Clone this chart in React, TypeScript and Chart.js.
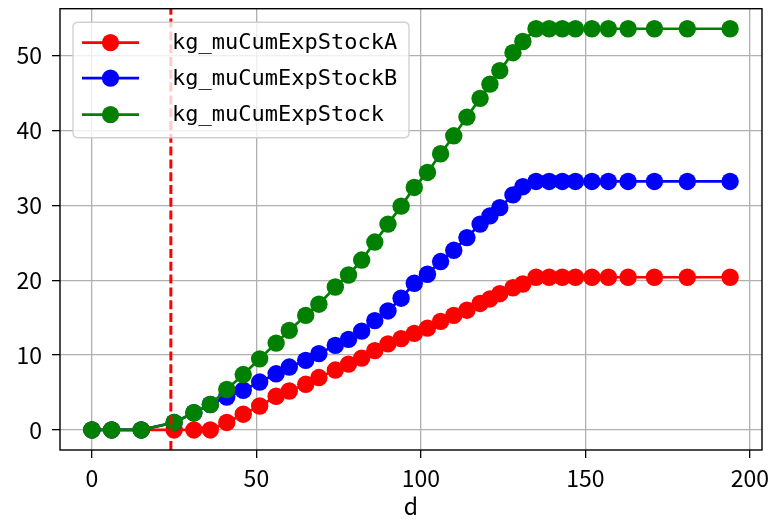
import React, { useEffect, useRef } from "react";
import { Chart, registerables } from "chart.js";

Chart.register(...registerables);

const days = [0, 6, 15, 25, 31, 36, 41, 46, 51, 56, 60, 65, 69, 74, 78, 82, 86, 90, 94, 98, 102, 106, 110, 114, 118, 121, 124, 128, 131, 135, 139, 143, 147, 152, 157, 163, 171, 181, 194];
const stockA = [0, 0, 0, 0, 0, 0, 1.0, 2.1, 3.2, 4.5, 5.2, 6.1, 7.0, 8.0, 8.8, 9.6, 10.6, 11.5, 12.2, 12.9, 13.6, 14.5, 15.3, 16.0, 16.9, 17.5, 18.2, 19.0, 19.5, 20.4, 20.4, 20.4, 20.4, 20.4, 20.4, 20.4, 20.4, 20.4, 20.4];
const stockB = [0, 0, 0, 1.0, 2.3, 3.4, 4.4, 5.3, 6.4, 7.5, 8.4, 9.3, 10.2, 11.3, 12.1, 13.2, 14.6, 15.9, 17.6, 19.6, 20.8, 22.5, 24.0, 25.7, 27.5, 28.6, 29.7, 31.4, 32.5, 33.2, 33.2, 33.2, 33.2, 33.2, 33.2, 33.2, 33.2, 33.2, 33.2];
const stockTotal = [0, 0, 0, 1.0, 2.3, 3.4, 5.4, 7.4, 9.5, 11.6, 13.3, 15.3, 16.8, 19.1, 20.7, 22.7, 25.1, 27.5, 29.9, 32.4, 34.4, 36.9, 39.3, 41.8, 44.3, 46.2, 48.0, 50.4, 51.9, 53.6, 53.6, 53.6, 53.6, 53.6, 53.6, 53.6, 53.6, 53.6, 53.6];
const seriesNames = ["kg_muCumExpStockA", "kg_muCumExpStockB", "kg_muCumExpStock"];
const seriesColors = ["#ff0000", "#0000ff", "#008000"];
const markerDay = 24;
const xTicks = [0, 50, 100, 150, 200];
const yTicks = [0, 10, 20, 30, 40, 50];
const xTitle = "d";

const X_MIN = -9.7;
const X_MAX = 203.7;
const Y_MIN = -2.68;
const Y_MAX = 56.28;

const TICK_FONT = { family: "'Noto Sans CJK SC', 'Noto Sans', sans-serif", size: 23 };

const framePlugin = {
  id: "frameAndLegend",
  afterDatasetsDraw(chart: any) {
    const { ctx, chartArea } = chart;
    ctx.save();
    ctx.strokeStyle = "#000000";
    ctx.lineWidth = 1.4;
    ctx.strokeRect(chartArea.left, chartArea.top, chartArea.right - chartArea.left, chartArea.bottom - chartArea.top);

    const lx = chartArea.left + 13;
    const ly = chartArea.top + 13.5;
    const lw = 336;
    const lh = 115.5;
    const r = 5;
    ctx.beginPath();
    ctx.moveTo(lx + r, ly);
    ctx.lineTo(lx + lw - r, ly);
    ctx.quadraticCurveTo(lx + lw, ly, lx + lw, ly + r);
    ctx.lineTo(lx + lw, ly + lh - r);
    ctx.quadraticCurveTo(lx + lw, ly + lh, lx + lw - r, ly + lh);
    ctx.lineTo(lx + r, ly + lh);
    ctx.quadraticCurveTo(lx, ly + lh, lx, ly + lh - r);
    ctx.lineTo(lx, ly + r);
    ctx.quadraticCurveTo(lx, ly, lx + r, ly);
    ctx.closePath();
    ctx.fillStyle = "rgba(255,255,255,0.8)";
    ctx.fill();
    ctx.strokeStyle = "rgba(204,204,204,0.9)";
    ctx.lineWidth = 1.4;
    ctx.stroke();

    const rows = [chartArea.top + 34, chartArea.top + 69.5, chartArea.top + 106];
    seriesNames.forEach((name, i) => {
      const y = rows[i];
      ctx.strokeStyle = seriesColors[i];
      ctx.lineWidth = 2.7;
      ctx.beginPath();
      ctx.moveTo(lx + 9, y);
      ctx.lineTo(lx + 66, y);
      ctx.stroke();
      ctx.fillStyle = seriesColors[i];
      ctx.beginPath();
      ctx.arc(lx + 37.5, y, 8.6, 0, Math.PI * 2);
      ctx.fill();
      ctx.fillStyle = "#000000";
      ctx.font = "22px 'DejaVu Sans Mono', monospace";
      ctx.textAlign = "left";
      ctx.textBaseline = "middle";
      ctx.fillText(name, lx + 99, y + 1);
    });
    ctx.restore();
  },
};

export default function App() {
  const canvasRef = useRef<HTMLCanvasElement | null>(null);

  useEffect(() => {
    if (!canvasRef.current) return;
    const toPts = (vals: number[]) => days.map((d, i) => ({ x: d, y: vals[i] }));
    const seriesData = [stockA, stockB, stockTotal];
    const datasets: any[] = seriesData.map((vals, i) => ({
      label: seriesNames[i],
      data: toPts(vals),
      borderColor: seriesColors[i],
      backgroundColor: seriesColors[i],
      borderWidth: 2.7,
      pointRadius: 8.7,
      pointHoverRadius: 8.7,
      pointBorderWidth: 0,
      pointBackgroundColor: seriesColors[i],
      tension: 0,
      fill: false,
      order: 3 - i,
    }));
    datasets.push({
      label: "marker",
      data: [
        { x: markerDay, y: Y_MIN },
        { x: markerDay, y: Y_MAX },
      ],
      borderColor: "#ff0000",
      borderWidth: 3,
      borderDash: [9, 3.8],
      pointRadius: 0,
      fill: false,
      order: 0,
    });

    const chart = new Chart(canvasRef.current, {
      type: "line",
      data: { datasets },
      plugins: [framePlugin],
      options: {
        animation: false,
        responsive: true,
        maintainAspectRatio: false,
        layout: { padding: { left: 0, top: 7, right: 16, bottom: 0 } },
        plugins: { legend: { display: false }, tooltip: { enabled: false } },
        scales: {
          x: {
            type: "linear",
            min: X_MIN,
            max: X_MAX,
            afterBuildTicks: (scale: any) => {
              scale.ticks = xTicks.map((v) => ({ value: v }));
            },
            afterFit: (scale: any) => {
              scale.height = 70;
              scale.paddingLeft = 0;
              scale.paddingRight = 0;
            },
            grid: {
              color: "#b0b0b0",
              lineWidth: 1.3,
              drawTicks: true,
              tickLength: 8,
              tickColor: "#000000",
              tickWidth: 1.3,
            },
            border: { display: false },
            ticks: {
              color: "#000000",
              font: TICK_FONT,
              padding: 6,
              maxRotation: 0,
              callback: (v: any) => String(v),
            },
            title: {
              display: true,
              text: xTitle,
              color: "#000000",
              font: TICK_FONT,
              padding: { top: 0, bottom: 0 },
            },
          },
          y: {
            type: "linear",
            min: Y_MIN,
            max: Y_MAX,
            afterBuildTicks: (scale: any) => {
              scale.ticks = yTicks.map((v) => ({ value: v }));
            },
            afterFit: (scale: any) => {
              scale.width = 60;
              scale.paddingTop = 0;
              scale.paddingBottom = 0;
            },
            grid: {
              color: "#b0b0b0",
              lineWidth: 1.3,
              drawTicks: true,
              tickLength: 8,
              tickColor: "#000000",
              tickWidth: 1.3,
            },
            border: { display: false },
            ticks: {
              color: "#000000",
              font: TICK_FONT,
              padding: 10,
              callback: (v: any) => String(v),
            },
          },
        },
      },
    });
    return () => chart.destroy();
  }, []);

  return (
    <div style={{ position: "fixed", left: 0, top: 0, width: 778, height: 520, background: "#ffffff" }}>
      <canvas ref={canvasRef} />
    </div>
  );
}
